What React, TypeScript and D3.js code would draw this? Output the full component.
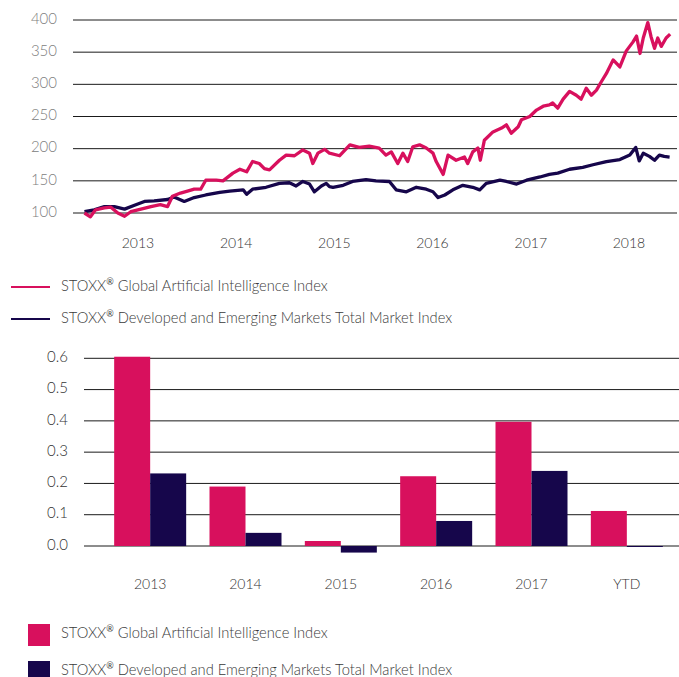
import React from "react";
import * as d3 from "d3";

// ---------- Line chart data (index level, base 100) ----------
const aiSeries: [string, number][] = [
  ["2012-06-16", 100], ["2012-07-08", 94], ["2012-07-27", 105], ["2012-08-29", 108],
  ["2012-09-22", 109], ["2012-10-18", 100], ["2012-11-12", 95], ["2012-12-05", 102],
  ["2013-01-12", 106], ["2013-02-18", 110], ["2013-03-25", 113], ["2013-04-21", 110],
  ["2013-05-09", 126], ["2013-06-08", 131], ["2013-07-04", 134], ["2013-07-29", 137],
  ["2013-08-22", 137], ["2013-09-10", 151], ["2013-10-19", 151], ["2013-11-13", 150],
  ["2013-12-20", 162], ["2014-01-15", 168], ["2014-02-09", 164], ["2014-03-03", 180],
  ["2014-03-28", 177], ["2014-04-16", 169], ["2014-05-05", 167], ["2014-06-11", 182],
  ["2014-07-06", 190], ["2014-08-06", 189], ["2014-09-06", 198], ["2014-10-01", 193],
  ["2014-10-13", 177], ["2014-11-01", 193], ["2014-11-26", 199], ["2014-12-14", 193],
  ["2015-01-21", 189], ["2015-02-28", 206], ["2015-04-04", 202], ["2015-05-11", 204],
  ["2015-06-17", 201], ["2015-07-12", 190], ["2015-08-01", 195], ["2015-08-25", 177],
  ["2015-09-13", 193], ["2015-10-01", 180], ["2015-10-20", 203], ["2015-11-14", 206],
  ["2015-12-09", 201], ["2016-01-03", 193], ["2016-01-15", 180], ["2016-02-10", 160],
  ["2016-02-28", 190], ["2016-03-29", 182], ["2016-04-29", 187], ["2016-05-11", 177],
  ["2016-05-30", 195], ["2016-06-18", 201], ["2016-06-27", 182], ["2016-07-12", 213],
  ["2016-08-13", 226], ["2016-09-14", 232], ["2016-10-02", 237], ["2016-10-20", 224],
  ["2016-11-15", 234], ["2016-11-27", 245], ["2016-12-28", 250], ["2017-01-22", 260],
  ["2017-02-16", 266], ["2017-03-11", 268], ["2017-03-23", 271], ["2017-04-11", 263],
  ["2017-05-01", 277], ["2017-05-25", 289], ["2017-06-19", 283], ["2017-07-07", 277],
  ["2017-07-26", 294], ["2017-08-14", 283], ["2017-09-02", 291], ["2017-09-20", 304],
  ["2017-10-09", 317], ["2017-11-03", 338], ["2017-11-28", 327], ["2017-12-22", 352],
  ["2018-01-16", 366], ["2018-01-29", 375], ["2018-02-11", 348], ["2018-02-23", 372],
  ["2018-03-12", 396], ["2018-03-24", 374], ["2018-04-06", 356], ["2018-04-18", 372],
  ["2018-05-01", 359], ["2018-05-19", 372], ["2018-06-03", 378],
];

const dmSeries: [string, number][] = [
  ["2012-06-16", 102], ["2012-07-22", 105], ["2012-08-29", 110], ["2012-10-05", 110],
  ["2012-11-12", 106], ["2012-12-19", 112], ["2013-01-25", 118], ["2013-03-02", 119],
  ["2013-04-21", 121], ["2013-05-15", 125], ["2013-06-22", 118], ["2013-07-29", 124],
  ["2013-09-10", 128], ["2013-11-01", 132], ["2013-12-08", 134], ["2014-01-27", 136],
  ["2014-02-09", 129], ["2014-03-03", 137], ["2014-04-22", 140], ["2014-06-11", 146],
  ["2014-07-18", 147], ["2014-08-12", 142], ["2014-09-06", 149], ["2014-10-01", 145],
  ["2014-10-19", 133], ["2014-11-14", 142], ["2014-12-02", 146], ["2014-12-14", 141],
  ["2014-12-27", 140], ["2015-02-03", 143], ["2015-03-10", 149], ["2015-04-29", 152],
  ["2015-06-05", 150], ["2015-07-25", 149], ["2015-08-19", 136], ["2015-09-26", 133],
  ["2015-11-02", 140], ["2015-12-09", 137], ["2016-01-03", 133], ["2016-01-22", 124],
  ["2016-02-16", 128], ["2016-03-17", 136], ["2016-04-23", 143], ["2016-05-30", 140],
  ["2016-06-25", 136], ["2016-07-19", 146], ["2016-09-08", 151], ["2016-10-02", 149],
  ["2016-11-09", 145], ["2016-12-16", 151], ["2017-02-04", 156], ["2017-03-11", 160],
  ["2017-04-11", 162], ["2017-05-25", 168], ["2017-07-13", 171], ["2017-08-20", 175],
  ["2017-10-09", 180], ["2017-11-28", 183], ["2018-01-04", 190], ["2018-01-26", 202],
  ["2018-02-08", 181], ["2018-02-23", 193], ["2018-03-18", 188], ["2018-04-06", 182],
  ["2018-04-24", 190], ["2018-05-12", 188], ["2018-06-01", 187],
];

const lineYTicks = [100, 150, 200, 250, 300, 350, 400];
const lineYears = [2013, 2014, 2015, 2016, 2017, 2018];

// ---------- Bar chart data (annual returns) ----------
const barCategories = ["2013", "2014", "2015", "2016", "2017", "YTD"];
const aiReturns = [0.605, 0.19, 0.016, 0.223, 0.397, 0.112];
const dmReturns = [0.232, 0.042, -0.021, 0.08, 0.24, -0.002];
const barYTicks = [0, 0.1, 0.2, 0.3, 0.4, 0.5, 0.6];

const seriesNames = [
  "Global Artificial Intelligence Index",
  "Developed and Emerging Markets Total Market Index",
];

const PINK = "#D8105D";
const NAVY = "#16064B";
const FONT = "Lato, 'Open Sans', sans-serif";

function Label({ x, y, name }: { x: number; y: number; name: string }) {
  return (
    <text x={x} y={y} fontSize={14.7} fontWeight={300} fill="#3a3a3a" dominantBaseline="middle" fontFamily={FONT}>
      STOXX
      <tspan fontSize={9} fontWeight={400} dy={-4}>®</tspan>
      <tspan dy={4}> {name}</tspan>
    </text>
  );
}

export default function App() {
  const parse = d3.timeParse("%Y-%m-%d");
  const x = d3
    .scaleTime()
    .domain([new Date(2013, 0, 1), new Date(2018, 0, 1)])
    .range([138, 629]);
  const y = d3.scaleLinear().domain([100, 400]).range([213, 20]);
  const line = d3
    .line<[string, number]>()
    .x((d) => x(parse(d[0]) as Date))
    .y((d) => y(d[1]))
    .curve(d3.curveLinear);

  const xb = d3.scaleBand().domain(barCategories).range([102.5, 674.5]).padding(0);
  const inner = d3.scaleBand().domain(["ai", "dm"]).range([0, 72]).padding(0);
  const off = (xb.bandwidth() - 72) / 2;
  const yb = d3.scaleLinear().domain([0, 0.6]).range([546, 358.3]);

  return (
    <svg
      width={679}
      height={677}
      style={{ position: "fixed", left: 0, top: 0, background: "#fff" }}
      fontFamily={FONT}
    >
      <rect width={679} height={677} fill="#fff" />
      {/* ---- Line chart ---- */}
      {lineYTicks.map((t) => (
        <g key={t}>
          <line x1={73} x2={677} y1={y(t)} y2={y(t)} stroke="#1a1a1a" strokeWidth={1} />
          <text x={57} y={y(t)} textAnchor="end" dominantBaseline="middle" fontSize={15} fontWeight={300} fill="#808080">
            {t}
          </text>
        </g>
      ))}
      {lineYears.map((yr) => (
        <text
          key={yr}
          x={x(new Date(yr, 0, 1))}
          y={245}
          textAnchor="middle"
          dominantBaseline="middle"
          fontSize={14}
          fontWeight={300}
          fill="#333"
        >
          {yr}
        </text>
      ))}
      <path d={line(dmSeries) || ""} fill="none" stroke={NAVY} strokeWidth={3.3} strokeLinejoin="round" />
      <path d={line(aiSeries) || ""} fill="none" stroke={PINK} strokeWidth={3.3} strokeLinejoin="round" />

      {/* legend 1 */}
      <line x1={11} x2={50} y1={287} y2={287} stroke={PINK} strokeWidth={2} />
      <Label x={61} y={287} name={seriesNames[0]} />
      <line x1={11} x2={50} y1={319} y2={319} stroke={NAVY} strokeWidth={2} />
      <Label x={61} y={319} name={seriesNames[1]} />

      {/* ---- Bar chart ---- */}
      {barYTicks.map((t) => (
        <g key={t}>
          <line x1={84} x2={679} y1={yb(t)} y2={yb(t)} stroke="#1a1a1a" strokeWidth={1} />
          <text x={68} y={yb(t)} textAnchor="end" dominantBaseline="middle" fontSize={15} fontWeight={300} fill="#333">
            {t.toFixed(1)}
          </text>
        </g>
      ))}
      {barCategories.map((c, i) => {
        const bx = (xb(c) as number) + off;
        const a = aiReturns[i];
        const m = dmReturns[i];
        return (
          <g key={c}>
            <rect
              x={bx + (inner("ai") as number)}
              width={inner.bandwidth()}
              y={Math.min(yb(a), yb(0))}
              height={Math.abs(yb(a) - yb(0))}
              fill={PINK}
            />
            <rect
              x={bx + (inner("dm") as number)}
              width={inner.bandwidth()}
              y={Math.min(yb(m), yb(0))}
              height={Math.max(1, Math.abs(yb(m) - yb(0)))}
              fill={NAVY}
            />
            <text
              x={(xb(c) as number) + xb.bandwidth() / 2}
              y={586}
              textAnchor="middle"
              dominantBaseline="middle"
              fontSize={14}
              fontWeight={300}
              fill="#333"
            >
              {c}
            </text>
          </g>
        );
      })}

      {/* legend 2 */}
      <rect x={28} y={624} width={22} height={22} fill={PINK} />
      <Label x={61} y={634} name={seriesNames[0]} />
      <rect x={28} y={661} width={22} height={22} fill={NAVY} />
      <Label x={61} y={671} name={seriesNames[1]} />
    </svg>
  );
}
